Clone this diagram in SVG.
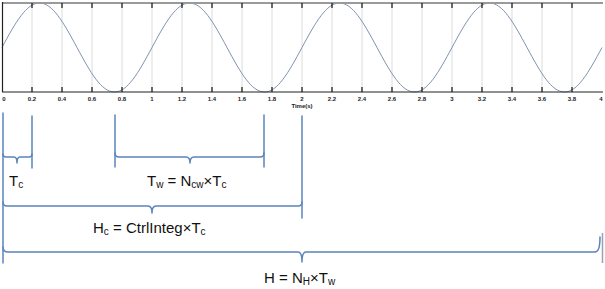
<svg xmlns="http://www.w3.org/2000/svg" width="605" height="289" viewBox="0 0 605 289">
<style>
.grid{stroke:#dcdcdc;stroke-width:1}
.tick{stroke:#111;stroke-width:1.2}
.tl{font-family:"Liberation Sans",Arial,sans-serif;font-size:6px;font-weight:bold;fill:#222;text-anchor:middle}
.br{fill:none;stroke:#5b84bb;stroke-width:1.5;stroke-linecap:round;stroke-linejoin:round}
.lbl{font-family:"Liberation Sans",Arial,sans-serif;font-size:15px;fill:#111}
.sub{font-size:10px}
</style>
<rect width="605" height="289" fill="#ffffff"/>
<g id="plot">
<g id="grid">
<path class="grid" d="M32,3V92M62,3V92M92,3V92M122,3V92M152,3V92M182,3V92M212,3V92M242,3V92M272,3V92M302,3V92M332,3V92M362,3V92M392,3V92M422,3V92M452,3V92M482,3V92M512,3V92M542,3V92M572,3V92"/>
</g>
<path id="sine" fill="none" stroke="#7f93ad" stroke-width="1" d="M2,47.5 c13.66,-25.45 24.56,-44.5 37.5,-44.5 c12.94,0 23.84,19.05 37.5,44.5 c13.66,25.45 24.56,44.5 37.5,44.5 c12.94,0 23.84,-19.05 37.5,-44.5 c13.66,-25.45 24.56,-44.5 37.5,-44.5 c12.94,0 23.84,19.05 37.5,44.5 c13.66,25.45 24.56,44.5 37.5,44.5 c12.94,0 23.84,-19.05 37.5,-44.5 c13.66,-25.45 24.56,-44.5 37.5,-44.5 c12.94,0 23.84,19.05 37.5,44.5 c13.66,25.45 24.56,44.5 37.5,44.5 c12.94,0 23.84,-19.05 37.5,-44.5 c13.66,-25.45 24.56,-44.5 37.5,-44.5 c12.94,0 23.84,19.05 37.5,44.5 c13.66,25.45 24.56,44.5 37.5,44.5 c12.94,0 23.84,-19.05 37.5,-44.5"/>
<line x1="2" y1="3" x2="603" y2="3" stroke="#9a9a9a" stroke-width="2"/>
<line x1="2" y1="92" x2="603" y2="92" stroke="#222" stroke-width="1.2"/>
<line x1="2.5" y1="2" x2="2.5" y2="92" stroke="#222" stroke-width="1.2"/>
<path class="tick" d="M32,3V8M62,3V8M92,3V8M122,3V8M152,3V8M182,3V8M212,3V8M242,3V8M272,3V8M302,3V8M332,3V8M362,3V8M392,3V8M422,3V8M452,3V8M482,3V8M512,3V8M542,3V8M572,3V8M32,87V92M62,87V92M92,87V92M122,87V92M152,87V92M182,87V92M212,87V92M242,87V92M272,87V92M302,87V92M332,87V92M362,87V92M392,87V92M422,87V92M452,87V92M482,87V92M512,87V92M542,87V92M572,87V92"/>
<g id="ticklabels">
<text class="tl" x="4" y="101">0</text>
<text class="tl" x="32" y="101">0.2</text>
<text class="tl" x="62" y="101">0.4</text>
<text class="tl" x="92" y="101">0.6</text>
<text class="tl" x="122" y="101">0.8</text>
<text class="tl" x="152" y="101">1</text>
<text class="tl" x="182" y="101">1.2</text>
<text class="tl" x="212" y="101">1.4</text>
<text class="tl" x="242" y="101">1.6</text>
<text class="tl" x="272" y="101">1.8</text>
<text class="tl" x="302" y="101">2</text>
<text class="tl" x="332" y="101">2.2</text>
<text class="tl" x="362" y="101">2.4</text>
<text class="tl" x="392" y="101">2.6</text>
<text class="tl" x="422" y="101">2.8</text>
<text class="tl" x="452" y="101">3</text>
<text class="tl" x="482" y="101">3.2</text>
<text class="tl" x="512" y="101">3.4</text>
<text class="tl" x="542" y="101">3.6</text>
<text class="tl" x="572" y="101">3.8</text>
<text class="tl" x="601" y="101">4</text>
<text class="tl" x="302" y="108">Time(s)</text>
</g>
</g>
<g id="connectors">
<path class="br" d="M3,113V263"/>
<path class="br" d="M32,116V168"/>
<path class="br" d="M115,115V167"/>
<path class="br" d="M264,115V167"/>
<path class="br" d="M302,116V218"/>
<path fill="none" stroke="#9aa3ad" stroke-width="1.5" d="M602.5,233V263"/>
</g>
<g id="brace-tc">
<path class="br" d="M3,154 Q3,157 6,157 L14,157 Q17,157 17,163 Q17,157 20,157 L29,157 Q32,157 32,154"/>
<text class="lbl" x="9" y="186">T<tspan class="sub" dy="2">c</tspan></text>
</g>
<g id="brace-tw">
<path class="br" d="M115,153 Q115,157 119,157 L186,157 Q190,157 190,163 Q190,157 194,157 L260,157 Q264,157 264,153"/>
<text class="lbl" x="147" y="186">T<tspan class="sub" dy="2">w</tspan><tspan dy="-2"> = N</tspan><tspan class="sub" dy="2">cw</tspan><tspan dy="-2">×T</tspan><tspan class="sub" dy="2">c</tspan></text>
</g>
<g id="brace-hc">
<path class="br" d="M3,202 Q3,206 7,206 L148,206 Q152,206 152,213 Q152,206 156,206 L298,206 Q302,206 302,202"/>
<text class="lbl" x="93" y="233">H<tspan class="sub" dy="2">c</tspan><tspan dy="-2"> = CtrlInteg×T</tspan><tspan class="sub" dy="2">c</tspan></text>
</g>
<g id="brace-h">
<path class="br" d="M3,247 Q3,252 8,252 L298,252 Q302,252 302,262 Q302,252 306,252 L595,252 Q600,252 600,237"/>
<text class="lbl" x="264" y="283">H = N<tspan class="sub" dy="2">H</tspan><tspan dy="-2">×T</tspan><tspan class="sub" dy="2">w</tspan></text>
</g>
</svg>
